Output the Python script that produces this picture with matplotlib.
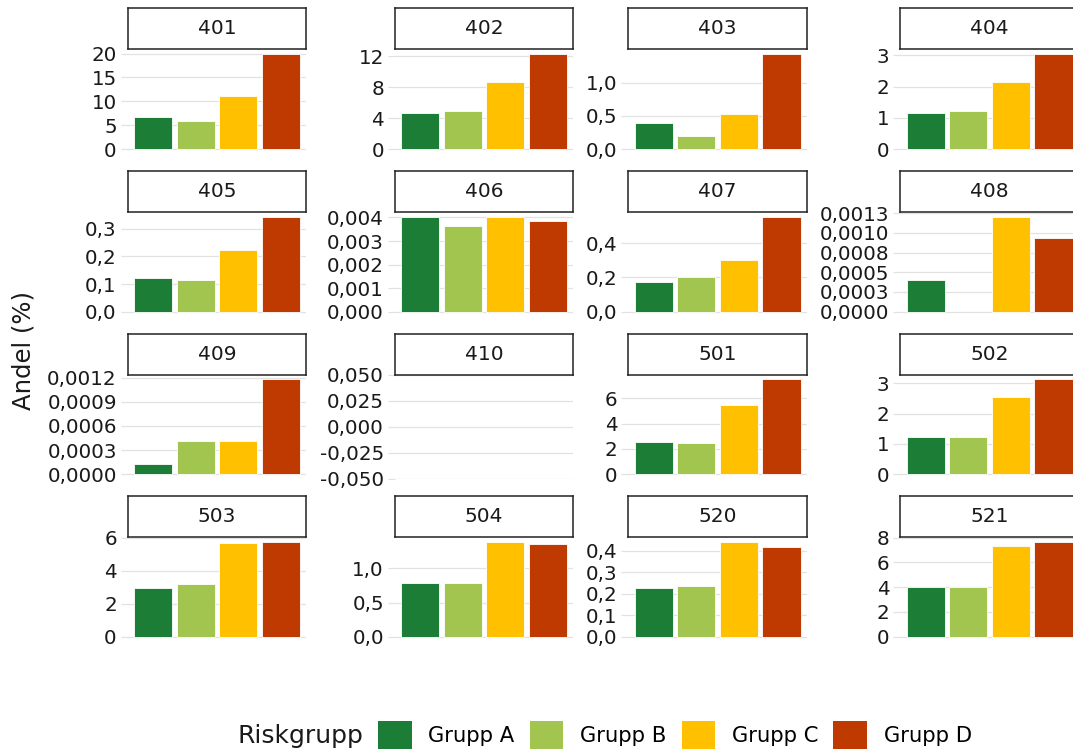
import numpy as np
import matplotlib
matplotlib.use("Agg")
import matplotlib.pyplot as plt
from matplotlib.patches import Patch

nan = np.nan

# facet labels and the share (%) per risk group
panels = ["401", "402", "403", "404", "405", "406", "407", "408",
          "409", "410", "501", "502", "503", "504", "520", "521"]
groups = ["Grupp A", "Grupp B", "Grupp C", "Grupp D"]
colors = ["#1b7d36", "#a1c54e", "#ffc000", "#be3a00"]

grupp_a = [6.8, 4.6, 0.39, 1.14, 0.123, 0.00404, 0.172, 0.000407,
           0.000133, nan, 2.59, 1.22, 2.97, 0.78, 0.228, 3.98]
grupp_b = [5.95, 4.95, 0.196, 1.21, 0.115, 0.00363, 0.205, nan,
           0.000408, nan, 2.48, 1.22, 3.19, 0.78, 0.236, 4.04]
grupp_c = [11.05, 8.6, 0.53, 2.13, 0.225, 0.0040, 0.304, 0.001208,
           0.000408, nan, 5.47, 2.54, 5.65, 1.387, 0.4425, 7.34]
grupp_d = [19.9, 12.26, 1.43, 3.04, 0.345, 0.00384, 0.556, 0.00094,
           0.00118, nan, 7.52, 3.13, 5.75, 1.353, 0.42, 7.67]

y_ticks = [
    [0, 5, 10, 15, 20],
    [0, 4, 8, 12],
    [0, 0.5, 1.0],
    [0, 1, 2, 3],
    [0, 0.1, 0.2, 0.3],
    [0, 0.001, 0.002, 0.003, 0.004],
    [0, 0.2, 0.4],
    [0, 0.00025, 0.0005, 0.00075, 0.001, 0.00125],
    [0, 0.0003, 0.0006, 0.0009, 0.0012],
    [-0.05, -0.025, 0, 0.025, 0.05],
    [0, 2, 4, 6],
    [0, 1, 2, 3],
    [0, 2, 4, 6],
    [0, 0.5, 1.0],
    [0, 0.1, 0.2, 0.3, 0.4],
    [0, 2, 4, 6, 8],
]
y_labels = [
    ["0", "5", "10", "15", "20"],
    ["0", "4", "8", "12"],
    ["0,0", "0,5", "1,0"],
    ["0", "1", "2", "3"],
    ["0,0", "0,1", "0,2", "0,3"],
    ["0,000", "0,001", "0,002", "0,003", "0,004"],
    ["0,0", "0,2", "0,4"],
    ["0,0000", "0,0003", "0,0005", "0,0008", "0,0010", "0,0013"],
    ["0,0000", "0,0003", "0,0006", "0,0009", "0,0012"],
    ["-0,050", "-0,025", "0,000", "0,025", "0,050"],
    ["0", "2", "4", "6"],
    ["0", "1", "2", "3"],
    ["0", "2", "4", "6"],
    ["0,0", "0,5", "1,0"],
    ["0,0", "0,1", "0,2", "0,3", "0,4"],
    ["0", "2", "4", "6", "8"],
]

W, H = 1073, 753
fig = plt.figure(figsize=(W / 100, H / 100), dpi=100)
fig.patch.set_facecolor("white")

# panel grid in pixels
col_left = [127.7, 394.8, 628.3, 900.3]
row_top = [8.3, 170.8, 333.5, 496.0]
pw = 178.6
strip_h = 41.0
panel_h = 104.5

grid_col = "#e2e2e2"
series = np.array([grupp_a, grupp_b, grupp_c, grupp_d])

for i, name in enumerate(panels):
    r, c = divmod(i, 4)
    x0 = col_left[c] / W
    st = row_top[r]

    ax = fig.add_axes([x0, 1 - (st + strip_h + panel_h) / H, pw / W, panel_h / H])
    ax.patch.set_alpha(0)
    vals = series[:, i]
    x = np.arange(1, 5)
    ax.bar(x, vals, width=0.9, color=colors, edgecolor="white",
           linewidth=0.6, zorder=3)
    ax.set_xlim(0.4, 4.6)
    if np.all(np.isnan(vals)):
        ax.set_ylim(-0.05, 0.05)
    else:
        top = np.nanmax(vals)
        ax.set_ylim(-0.05 * top, 1.05 * top)
    ax.set_yticks(y_ticks[i])
    ax.set_yticklabels(y_labels[i])
    ax.set_xticks([])
    ax.grid(axis="y", color=grid_col, linewidth=0.9, zorder=0)
    ax.tick_params(axis="y", length=4.8, width=0.9, color=grid_col,
                   pad=3.0, labelsize=14.3, labelcolor="#1a1a1a")
    for sp in ax.spines.values():
        sp.set_visible(False)

    # strip on top of the panel
    sax = fig.add_axes([x0, 1 - (st + strip_h) / H, pw / W, strip_h / H])
    sax.set_zorder(5)
    sax.set_xticks([])
    sax.set_yticks([])
    for sp in sax.spines.values():
        sp.set_color("#222222")
        sp.set_linewidth(1.1)
    sax.text(0.5, 0.5, name, ha="center", va="center", fontsize=14.5,
             color="#1a1a1a", transform=sax.transAxes)

fig.text(24 / W, 1 - 350 / H, "Andel (%)", rotation=90, ha="center",
         va="center", fontsize=17.5, color="#1a1a1a")

# legend along the bottom
fig.text(238 / W, 1 - 743 / H, "Riskgrupp", ha="left", va="baseline",
         fontsize=18, color="#1a1a1a")
handles = [Patch(facecolor=col, edgecolor="none") for col in colors]
fig.legend(handles, groups, loc="center left",
           bbox_to_anchor=(378 / W, 1 - 735 / H), ncol=4, frameon=False,
           fontsize=15.2, handlelength=1.6, handleheight=1.7,
           handletextpad=0.78, columnspacing=0.72, borderpad=0,
           borderaxespad=0)

fig.savefig("out.png", dpi=100)
